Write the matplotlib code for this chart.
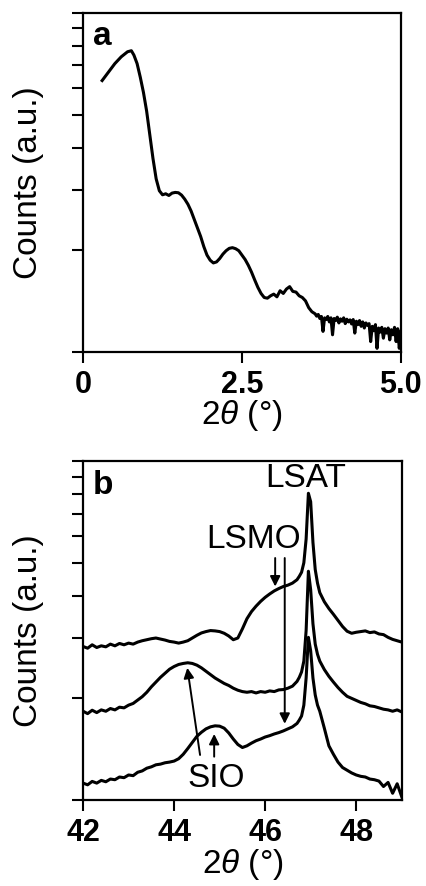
import numpy as np
import matplotlib
matplotlib.use("Agg")
import matplotlib.pyplot as plt
from matplotlib.ticker import NullLocator

plt.rcParams['font.family'] = ['Liberation Sans', 'DejaVu Sans']
plt.rcParams['mathtext.fontset'] = 'custom'
plt.rcParams['mathtext.it'] = 'Liberation Sans:italic'
plt.rcParams['mathtext.rm'] = 'Liberation Sans'

# ---- panel a : low angle reflectivity (log10 of counts) ----
x_a = [0.30, 0.40, 0.50, 0.60, 0.70, 0.76, 0.80, 0.85, 0.90, 0.95,
       1.00, 1.05, 1.10, 1.15, 1.20, 1.25, 1.30, 1.35, 1.40, 1.45,
       1.50, 1.55, 1.60, 1.65, 1.70, 1.75, 1.80, 1.85, 1.90, 1.95,
       2.00, 2.05, 2.10, 2.15, 2.20, 2.25, 2.30, 2.35, 2.40, 2.45,
       2.50, 2.55, 2.60, 2.65, 2.70, 2.75, 2.80, 2.85, 2.90, 2.95,
       3.00, 3.05, 3.10, 3.15, 3.20, 3.25, 3.30, 3.35, 3.40, 3.45,
       3.50, 3.55, 3.60,
       3.650, 3.675, 3.700, 3.725, 3.750, 3.775, 3.800, 3.825, 3.850, 3.875,
       3.900, 3.925, 3.950, 3.975, 4.000, 4.025, 4.050, 4.075, 4.100, 4.125,
       4.150, 4.175, 4.200, 4.225, 4.250, 4.275, 4.300, 4.325, 4.350, 4.375,
       4.400, 4.425, 4.450, 4.475, 4.500, 4.525, 4.550, 4.575, 4.600, 4.625,
       4.650, 4.675, 4.700, 4.725, 4.750, 4.775, 4.800, 4.825, 4.850, 4.875,
       4.900, 4.925, 4.950, 4.975, 5.000]
logc_a = [0.800, 0.825, 0.850, 0.870, 0.885, 0.888, 0.875, 0.850, 0.810, 0.765,
          0.710, 0.640, 0.570, 0.510, 0.475, 0.463, 0.466, 0.461, 0.468, 0.470,
          0.469, 0.462, 0.450, 0.435, 0.415, 0.390, 0.365, 0.340, 0.310, 0.285,
          0.270, 0.262, 0.265, 0.275, 0.288, 0.298, 0.305, 0.307, 0.304, 0.298,
          0.285, 0.272, 0.255, 0.235, 0.212, 0.190, 0.172, 0.160, 0.158, 0.165,
          0.170, 0.162, 0.180, 0.172, 0.185, 0.192, 0.178, 0.176, 0.165, 0.160,
          0.150, 0.130, 0.118,
          0.112, 0.105, 0.110, 0.098, 0.104, 0.060, 0.100, 0.095, 0.104, 0.088,
          0.100, 0.050, 0.098, 0.092, 0.102, 0.085, 0.097, 0.090, 0.100, 0.083,
          0.096, 0.088, 0.094, 0.082, 0.095, 0.055, 0.090, 0.080, 0.092, 0.075,
          0.088, 0.070, 0.085, 0.078, 0.083, 0.030, 0.075, 0.062, 0.080, 0.010,
          0.070, 0.058, 0.072, 0.040, 0.068, 0.055, 0.070, 0.035, 0.065, 0.050,
          0.072, 0.030, 0.068, 0.010, 0.060]

# ---- panel b : theta-2theta scans around LSAT (002) ----
x_b = [42.0, 42.1, 42.2, 42.3, 42.4, 42.5, 42.6, 42.7, 42.8, 42.9,
       43.0, 43.1, 43.2, 43.3, 43.4, 43.5, 43.6, 43.7, 43.8, 43.9,
       44.0, 44.1, 44.2, 44.3, 44.4, 44.5, 44.6, 44.7, 44.8, 44.9,
       45.0, 45.1, 45.2, 45.3, 45.4, 45.5, 45.6, 45.7, 45.8, 45.9,
       46.0, 46.1, 46.2, 46.3, 46.4, 46.5, 46.6, 46.7, 46.75, 46.8,
       46.85, 46.9, 46.95, 47.0, 47.05, 47.1, 47.15, 47.2, 47.3, 47.4,
       47.5, 47.6, 47.7, 47.8, 47.9, 48.0, 48.1, 48.2, 48.3, 48.4,
       48.5, 48.6, 48.7, 48.8, 48.9, 49.0]
logc_top = [0.453, 0.448, 0.458, 0.450, 0.455, 0.452, 0.460, 0.455, 0.462, 0.458,
            0.463, 0.460, 0.466, 0.470, 0.473, 0.476, 0.478, 0.475, 0.472, 0.468,
            0.466, 0.463, 0.466, 0.470, 0.478, 0.486, 0.493, 0.497, 0.500, 0.499,
            0.497, 0.492, 0.484, 0.473, 0.478, 0.505, 0.535, 0.556, 0.572, 0.586,
            0.598, 0.608, 0.617, 0.624, 0.630, 0.634, 0.640, 0.650, 0.660, 0.672,
            0.700, 0.770, 0.905, 0.880, 0.760, 0.680, 0.640, 0.612, 0.585, 0.565,
            0.548, 0.530, 0.512, 0.498, 0.492, 0.495, 0.497, 0.499, 0.494, 0.496,
            0.490, 0.488, 0.480, 0.474, 0.470, 0.466]
logc_mid = [0.262, 0.255, 0.265, 0.258, 0.266, 0.262, 0.270, 0.266, 0.274, 0.272,
            0.280, 0.285, 0.295, 0.305, 0.318, 0.334, 0.348, 0.362, 0.374, 0.386,
            0.394, 0.400, 0.403, 0.405, 0.403, 0.398, 0.390, 0.380, 0.370, 0.360,
            0.352, 0.344, 0.338, 0.330, 0.324, 0.320, 0.318, 0.320, 0.316, 0.320,
            0.318, 0.322, 0.320, 0.325, 0.326, 0.330, 0.336, 0.350, 0.362, 0.378,
            0.410, 0.500, 0.675, 0.620, 0.520, 0.460, 0.430, 0.410, 0.385, 0.365,
            0.348, 0.332, 0.318, 0.306, 0.300, 0.294, 0.288, 0.284, 0.278, 0.276,
            0.272, 0.268, 0.266, 0.262, 0.266, 0.260]
logc_bot = [0.050, 0.045, 0.055, 0.050, 0.058, 0.054, 0.062, 0.060, 0.068, 0.066,
            0.074, 0.072, 0.082, 0.086, 0.094, 0.098, 0.104, 0.106, 0.110, 0.112,
            0.115, 0.122, 0.135, 0.152, 0.170, 0.188, 0.200, 0.210, 0.216, 0.219,
            0.218, 0.212, 0.198, 0.180, 0.164, 0.155, 0.160, 0.168, 0.175, 0.180,
            0.186, 0.190, 0.195, 0.199, 0.204, 0.210, 0.216, 0.226, 0.236, 0.248,
            0.280, 0.360, 0.480, 0.440, 0.360, 0.310, 0.280, 0.262, 0.212, 0.160,
            0.135, 0.112, 0.096, 0.088, 0.080, 0.074, 0.070, 0.068, 0.062, 0.060,
            0.056, 0.040, 0.052, 0.020, 0.048, 0.010]

fig = plt.figure(figsize=(4.26, 8.86), dpi=100)
ax1 = fig.add_axes([0.195, 0.603, 0.746, 0.3826])
ax2 = fig.add_axes([0.195, 0.097, 0.748, 0.3826])

lw = 2.2
ax1.plot(x_a, 10 ** np.array(logc_a), color='black', lw=lw)
for lc in (logc_top, logc_mid, logc_bot):
    ax2.plot(x_b, 10 ** np.array(lc), color='black', lw=lw)

for ax in (ax1, ax2):
    ax.set_yscale('log')
    ax.set_ylim(1, 10)
    ax.yaxis.set_minor_locator(NullLocator())
    ax.set_yticks(range(1, 11))
    ax.set_yticklabels([])
    ax.tick_params(axis='both', direction='out', length=8, width=1.5,
                   labelsize=22, pad=5)
    for s in ax.spines.values():
        s.set_linewidth(1.6)
    ax.set_ylabel('Counts (a.u.)', fontsize=24, labelpad=15)
    ax.set_xlabel(r'2$\theta$ (°)', fontsize=24, labelpad=-1)

ax1.set_xlim(0, 5)
ax1.set_xticks([0, 2.5, 5.0])
ax1.set_xticklabels(['0', '2.5', '5.0'], fontweight='bold')
ax2.set_xlim(42, 49)
ax2.set_xticks([42, 44, 46, 48])
ax2.set_xticklabels(['42', '44', '46', '48'], fontweight='bold')

ax1.text(0.03, 0.975, 'a', transform=ax1.transAxes, fontsize=24,
         fontweight='bold', va='top', ha='left')
ax2.text(0.03, 0.975, 'b', transform=ax2.transAxes, fontsize=24,
         fontweight='bold', va='top', ha='left')

# annotations in panel b
fs_ann = 24
ax2.text(46.9, 10 ** 0.95, 'LSAT', fontsize=fs_ann, ha='center', va='center')
ax2.text(45.75, 10 ** 0.77, 'LSMO', fontsize=fs_ann, ha='center', va='center')
ax2.text(44.92, 10 ** 0.064, 'SIO', fontsize=fs_ann, ha='center', va='center')

arr = dict(arrowstyle='-|>', color='black', lw=1.4, mutation_scale=15,
           shrinkA=0, shrinkB=0)
ax2.annotate('', xy=(46.22, 10 ** 0.63), xytext=(46.22, 10 ** 0.714), arrowprops=arr)
ax2.annotate('', xy=(46.43, 10 ** 0.225), xytext=(46.43, 10 ** 0.714), arrowprops=arr)
ax2.annotate('', xy=(44.29, 10 ** 0.39), xytext=(44.57, 10 ** 0.133), arrowprops=arr)
ax2.annotate('', xy=(44.88, 10 ** 0.195), xytext=(44.88, 10 ** 0.128), arrowprops=arr)

fig.savefig('out.png', dpi=100)
